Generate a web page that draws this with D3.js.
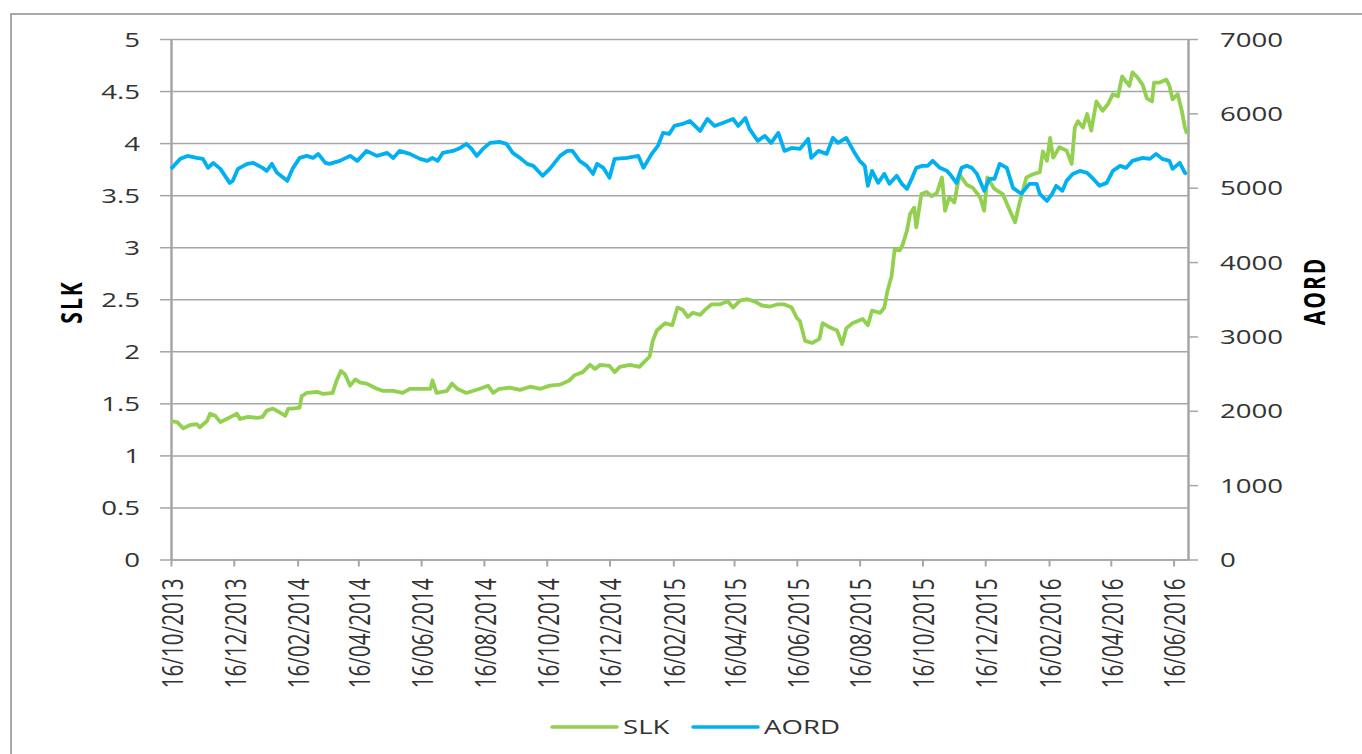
<!DOCTYPE html>
<html>
<head>
<meta charset="utf-8">
<script src="https://cdn.jsdelivr.net/npm/d3@7"></script>
<style>
body { margin: 0; background: #fff; }
text { font-family: "Open Sans", sans-serif; fill: #333; }
</style>
</head>
<body>
<svg id="chart" width="1362" height="754"></svg>
<script>
// Data (days counted from the start date)
var startDate = "2013-10-16";
var endDate = "2016-06-30";

var xTickDates = ["2013-10-16", "2013-12-16", "2014-02-16", "2014-04-16", "2014-06-16", "2014-08-16",
    "2014-10-16", "2014-12-16", "2015-02-16", "2015-04-16", "2015-06-16", "2015-08-16",
    "2015-10-16", "2015-12-16", "2016-02-16", "2016-04-16", "2016-06-16"];

var leftTicks = [0, 0.5, 1, 1.5, 2, 2.5, 3, 3.5, 4, 4.5, 5];
var rightTicks = [0, 1000, 2000, 3000, 4000, 5000, 6000, 7000];

var seriesNames = ["SLK", "AORD"];
var seriesColors = ["#92d050", "#00b0f0"];

var slkDays = [0, 6, 12, 18, 25, 28, 35, 38, 43, 48, 54, 60, 64, 67, 75, 84, 89, 93, 99, 106,
    111, 114, 118, 125, 127, 132, 142, 148, 157, 161, 165, 169, 174, 179, 184, 190, 200, 206, 216, 225,
    232, 242, 252, 254, 258, 268, 273, 278, 287, 300, 308, 313, 319, 329, 339, 349, 359, 368, 378, 387,
    392, 400, 407, 412, 417, 426, 431, 436, 446, 455, 460, 465, 468, 472, 480, 487, 492, 497, 502, 507,
    514, 519, 525, 533, 541, 546, 553, 560, 567, 574, 582, 589, 596, 603, 608, 611, 616, 623, 630, 633,
    640, 647, 652, 656, 662, 672, 677, 681, 689, 693, 696, 700, 703, 708, 711, 715, 718, 722, 724, 729,
    734, 739, 744, 749, 752, 756, 761, 766, 773, 779, 786, 790, 793, 800, 808, 815, 820, 824, 831, 837,
    844, 847, 851, 854, 857, 863, 870, 875, 878, 881, 886, 890, 894, 899, 905, 910, 915, 920, 924, 931,
    934, 939, 944, 948, 953, 955, 960, 967, 970, 973, 978, 982, 985, 987];
var slkValues = [1.33, 1.32, 1.26, 1.29, 1.30, 1.27, 1.33, 1.40, 1.38, 1.32, 1.35, 1.38, 1.40, 1.35, 1.37, 1.36, 1.37, 1.43, 1.45, 1.41,
    1.38, 1.45, 1.45, 1.46, 1.57, 1.60, 1.61, 1.59, 1.60, 1.72, 1.81, 1.78, 1.67, 1.73, 1.70, 1.69, 1.64, 1.62, 1.62, 1.60,
    1.64, 1.64, 1.64, 1.72, 1.60, 1.62, 1.69, 1.64, 1.60, 1.64, 1.67, 1.60, 1.64, 1.65, 1.63, 1.66, 1.64, 1.67, 1.68, 1.72,
    1.77, 1.80, 1.87, 1.83, 1.87, 1.86, 1.80, 1.85, 1.87, 1.85, 1.90, 1.95, 2.10, 2.20, 2.27, 2.25, 2.42, 2.40, 2.33, 2.37,
    2.35, 2.40, 2.45, 2.45, 2.48, 2.42, 2.49, 2.50, 2.48, 2.44, 2.43, 2.45, 2.45, 2.42, 2.32, 2.29, 2.10, 2.08, 2.12, 2.27,
    2.23, 2.20, 2.07, 2.22, 2.27, 2.31, 2.25, 2.39, 2.37, 2.42, 2.58, 2.72, 2.98, 2.97, 3.03, 3.16, 3.32, 3.38, 3.19, 3.51,
    3.53, 3.49, 3.52, 3.67, 3.35, 3.48, 3.43, 3.70, 3.60, 3.57, 3.48, 3.35, 3.67, 3.56, 3.51, 3.35, 3.24, 3.41, 3.67, 3.70,
    3.72, 3.92, 3.83, 4.05, 3.86, 3.96, 3.93, 3.80, 4.15, 4.21, 4.15, 4.28, 4.12, 4.40, 4.31, 4.37, 4.47, 4.45, 4.64, 4.55,
    4.68, 4.63, 4.56, 4.43, 4.40, 4.58, 4.58, 4.61, 4.55, 4.42, 4.47, 4.31, 4.15, 4.09];

var aordDays = [0, 9, 16, 25, 31, 36, 41, 48, 57, 60, 65, 74, 80, 89, 93, 98, 103, 113, 118, 125,
    132, 138, 143, 150, 154, 164, 174, 181, 190, 200, 210, 216, 222, 232, 242, 249, 254, 259, 264, 274,
    281, 287, 292, 297, 303, 310, 319, 326, 332, 339, 346, 352, 361, 368, 378, 385, 390, 397, 404, 410,
    414, 420, 426, 431, 443, 454, 459, 467, 473, 478, 484, 489, 497, 504, 514, 521, 528, 536, 546, 551,
    558, 562, 570, 577, 583, 590, 596, 603, 611, 619, 622, 629, 637, 643, 648, 656, 663, 669, 674, 677,
    681, 687, 693, 698, 705, 710, 715, 720, 724, 730, 735, 740, 747, 754, 758, 763, 768, 773, 778, 783,
    790, 795, 800, 805, 812, 818, 826, 834, 841, 844, 851, 856, 860, 866, 870, 876, 883, 890, 895, 902,
    909, 915, 922, 928, 934, 944, 951, 957, 963, 970, 973, 980, 985, 987];
var aordValues = [5253, 5388, 5428, 5401, 5388, 5267, 5334, 5253, 5065, 5092, 5253, 5321, 5334, 5267, 5226, 5321, 5200, 5092, 5253, 5401,
    5428, 5401, 5455, 5334, 5321, 5361, 5428, 5361, 5495, 5428, 5468, 5401, 5495, 5455, 5388, 5361, 5401, 5361, 5468, 5495,
    5535, 5589, 5522, 5428, 5522, 5603, 5616, 5589, 5468, 5401, 5321, 5294, 5160, 5253, 5428, 5495, 5495, 5361, 5294, 5186,
    5321, 5267, 5133, 5388, 5401, 5428, 5267, 5455, 5562, 5737, 5724, 5831, 5858, 5898, 5764, 5925, 5831, 5871, 5925, 5831,
    5938, 5791, 5630, 5697, 5603, 5737, 5495, 5535, 5522, 5657, 5401, 5495, 5455, 5670, 5603, 5670, 5495, 5361, 5294, 5025,
    5226, 5065, 5186, 5052, 5160, 5052, 4985, 5133, 5267, 5294, 5294, 5361, 5267, 5226, 5160, 5065, 5267, 5294, 5267, 5186,
    4958, 5119, 5119, 5321, 5267, 4998, 4918, 5052, 5052, 4918, 4823, 4918, 5025, 4958, 5092, 5186, 5226, 5200, 5133, 5025,
    5065, 5226, 5294, 5267, 5361, 5401, 5388, 5455, 5388, 5361, 5253, 5334, 5200, 5186];

var svgWidth = 1362;
var svgHeight = 754;
var plot = {left: 171, right: 1188, top: 39, bottom: 559.5};
var stretch = 1.38;   // the picture is widened, so text is widened too
var textColor = "#333";

var svg = d3.select("#chart");
var parse = d3.utcParse("%Y-%m-%d");
var start = parse(startDate);
function dayToDate(d) { return new Date(start.getTime() + d * 86400000); }

svg.append("rect")
    .attr("width", svgWidth)
    .attr("height", svgHeight)
    .attr("fill", "#fff");

// outer chart border
svg.append("rect")
    .attr("x", 11)
    .attr("y", 14)
    .attr("width", svgWidth + 20)
    .attr("height", svgHeight + 20)
    .attr("fill", "none")
    .attr("stroke", "#8c8c8c")
    .attr("stroke-width", 1.5);

var x = d3.scaleUtc()
    .domain([start, parse(endDate)])
    .range([plot.left, plot.right]);
var yL = d3.scaleLinear().domain([0, 5]).range([plot.bottom, plot.top]);
var yR = d3.scaleLinear().domain([0, 7000]).range([plot.bottom, plot.top]);

// horizontal gridlines
svg.append("g")
    .attr("class", "grid")
    .attr("transform", "translate(" + plot.left + ",0)")
    .call(d3.axisLeft(yL).tickValues(leftTicks).tickSize(-(plot.right - plot.left)).tickFormat(""))
    .call(function(g) { g.select(".domain").remove(); })
    .selectAll("line")
    .attr("stroke", "#a6a6a6")
    .attr("stroke-width", 1.5);

// left axis
var leftAxis = svg.append("g")
    .attr("transform", "translate(" + plot.left + ",0)")
    .call(d3.axisLeft(yL).tickValues(leftTicks).tickSize(11).tickSizeOuter(0).tickFormat(d3.format("")));
leftAxis.select(".domain").attr("stroke", "#a6a6a6").attr("stroke-width", 2.5);
leftAxis.selectAll(".tick line").attr("stroke", "#a6a6a6").attr("stroke-width", 1.5);
leftAxis.selectAll(".tick text")
    .attr("x", 0)
    .attr("dy", "0.36em")
    .attr("text-anchor", "end")
    .attr("transform", "translate(-31,0) scale(" + stretch + ",1)")
    .style("font-size", "20px")
    .style("fill", textColor);

// right axis
var rightAxis = svg.append("g")
    .attr("transform", "translate(" + plot.right + ",0)")
    .call(d3.axisRight(yR).tickValues(rightTicks).tickSize(10).tickSizeOuter(0).tickFormat(d3.format("d")));
rightAxis.select(".domain").attr("stroke", "#a6a6a6").attr("stroke-width", 2.5);
rightAxis.selectAll(".tick line").attr("stroke", "#a6a6a6").attr("stroke-width", 1.5);
rightAxis.selectAll(".tick text")
    .attr("x", 0)
    .attr("dy", "0.36em")
    .attr("text-anchor", "start")
    .attr("transform", "translate(32,0) scale(" + stretch + ",1)")
    .style("font-size", "20px")
    .style("fill", textColor);

// bottom date axis
var bottomAxis = svg.append("g")
    .attr("transform", "translate(0," + plot.bottom + ")")
    .call(d3.axisBottom(x).tickValues(xTickDates.map(parse)).tickSize(7).tickSizeOuter(0)
        .tickFormat(d3.utcFormat("%d/%m/%Y")));
bottomAxis.select(".domain").attr("stroke", "#a6a6a6").attr("stroke-width", 1.5);
bottomAxis.selectAll(".tick line").attr("stroke", "#a6a6a6").attr("stroke-width", 2);
bottomAxis.selectAll(".tick text")
    .attr("x", 0)
    .attr("y", 0)
    .attr("dy", "0.36em")
    .attr("text-anchor", "end")
    .attr("transform", "translate(1,19) scale(" + stretch + ",1) rotate(-90)")
    .style("font-size", "20.7px")
    .style("fill", textColor);

// axis titles
svg.append("text")
    .attr("transform", "translate(72,302) scale(" + stretch + ",1) rotate(-90)")
    .attr("text-anchor", "middle")
    .attr("dy", "0.36em")
    .style("font-size", "21px")
    .style("font-weight", "bold")
    .style("letter-spacing", "2px")
    .style("fill", "#000")
    .text(seriesNames[0]);

svg.append("text")
    .attr("transform", "translate(1315,291) scale(" + stretch + ",1) rotate(-90)")
    .attr("text-anchor", "middle")
    .attr("dy", "0.36em")
    .style("font-size", "21px")
    .style("font-weight", "bold")
    .style("letter-spacing", "2px")
    .style("fill", "#000")
    .text(seriesNames[1]);

// series
var slkData = slkDays.map(function(d, i) { return {date: dayToDate(d), v: slkValues[i]}; });
var aordData = aordDays.map(function(d, i) { return {date: dayToDate(d), v: aordValues[i]}; });

var lineL = d3.line()
    .x(function(d) { return x(d.date); })
    .y(function(d) { return yL(d.v); });
var lineR = d3.line()
    .x(function(d) { return x(d.date); })
    .y(function(d) { return yR(d.v); });

svg.append("path")
    .datum(slkData)
    .attr("d", lineL)
    .attr("fill", "none")
    .attr("stroke", seriesColors[0])
    .attr("stroke-width", 3.8)
    .attr("stroke-linejoin", "round");

svg.append("path")
    .datum(aordData)
    .attr("d", lineR)
    .attr("fill", "none")
    .attr("stroke", seriesColors[1])
    .attr("stroke-width", 3.8)
    .attr("stroke-linejoin", "round");

// legend
var legendX = [552, 693];
var legend = svg.append("g").attr("transform", "translate(0,727)");
seriesNames.forEach(function(name, i) {
    legend.append("line")
        .attr("x1", legendX[i])
        .attr("x2", legendX[i] + 65)
        .attr("y1", 0)
        .attr("y2", 0)
        .attr("stroke", seriesColors[i])
        .attr("stroke-width", 3.5)
        .attr("stroke-linecap", "round");
    legend.append("text")
        .attr("transform", "translate(" + (legendX[i] + 71) + ",0) scale(" + stretch + ",1)")
        .attr("dy", "0.36em")
        .style("font-size", "20px")
        .style("fill", textColor)
        .text(name);
});
</script>
</body>
</html>
